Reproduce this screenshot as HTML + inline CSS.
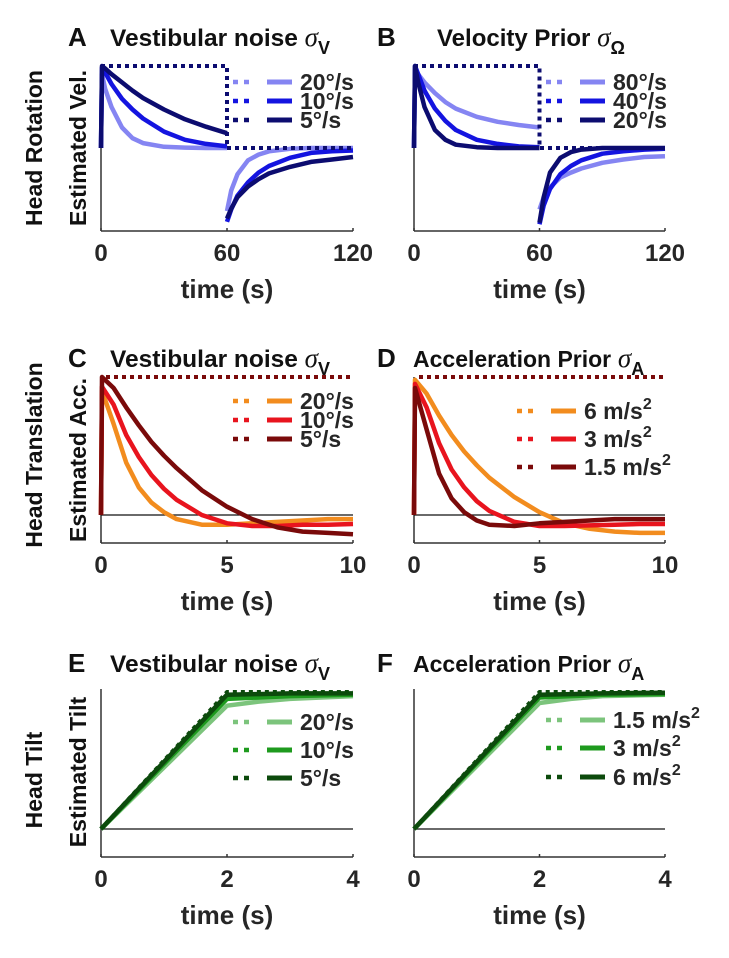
<!DOCTYPE html>
<html><head><meta charset="utf-8"><style>
body{margin:0;background:#fff;}
svg{display:block;font-family:"Liberation Sans",sans-serif;font-weight:bold;}
</style></head><body>
<svg id="fig" width="729" height="958" viewBox="0 0 729 958"></svg>
<script>
// ---- Panel A data (Head rotation, vestibular noise) ----
const aT1=[0,0.5,2,5,10,15,20,30,40,50,60];
const aT2=[60,62,65,70,75,80,90,100,110,120];
const aLight1=[0,0.9,0.72,0.5,0.25,0.12,0.06,0.015,0.005,0,0];
const aLight2=[-0.77,-0.52,-0.32,-0.15,-0.08,-0.04,-0.01,0,0,0];
const aMid1=[0,0.98,0.92,0.78,0.6,0.47,0.36,0.2,0.1,0.05,0.02];
const aMid2=[-0.9,-0.75,-0.58,-0.42,-0.3,-0.22,-0.12,-0.06,-0.04,-0.03];
const aDark1=[0,1,0.97,0.9,0.8,0.7,0.61,0.47,0.35,0.26,0.18];
const aDark2=[-0.86,-0.74,-0.6,-0.47,-0.38,-0.31,-0.23,-0.17,-0.14,-0.11];
// ---- Panel B data (velocity prior) ----
const bLight1=[0,0.95,0.9,0.8,0.67,0.56,0.48,0.38,0.32,0.28,0.25];
const bLight2=[-0.75,-0.6,-0.48,-0.36,-0.3,-0.25,-0.18,-0.14,-0.11,-0.1];
const bMid1=[0,1,0.9,0.7,0.48,0.33,0.22,0.1,0.05,0.02,0.01];
const bMid2=[-0.93,-0.7,-0.5,-0.32,-0.22,-0.15,-0.07,-0.04,-0.02,-0.01];
const bDark1=[0,1,0.8,0.5,0.22,0.1,0.04,0.01,0,0,0];
const bDark2=[-0.91,-0.6,-0.3,-0.12,-0.05,-0.02,0,0,0,0];
// ---- Panels C/D data (translation) ----
const cT=[0,0.04,0.5,1,1.5,2,2.5,3,4,5,6,7,8,9,10];
const cOrange=[0,0.9,0.66,0.38,0.2,0.09,0.02,-0.03,-0.07,-0.07,-0.06,-0.05,-0.04,-0.03,-0.03];
const cRed=[0,0.93,0.8,0.58,0.42,0.29,0.19,0.11,0,-0.06,-0.08,-0.08,-0.07,-0.07,-0.065];
const cDarkRed=[0,1,0.92,0.78,0.65,0.53,0.43,0.34,0.18,0.06,-0.03,-0.09,-0.12,-0.13,-0.14];
const dOrange=[0,0.98,0.88,0.72,0.58,0.46,0.36,0.27,0.13,0.02,-0.06,-0.1,-0.12,-0.13,-0.13];
const dRed=[0,0.95,0.78,0.52,0.33,0.2,0.1,0.03,-0.05,-0.08,-0.08,-0.075,-0.07,-0.065,-0.065];
const dDarkRed=[0,0.92,0.62,0.3,0.12,0.02,-0.04,-0.07,-0.08,-0.06,-0.05,-0.04,-0.03,-0.03,-0.03];
// ---- Panels E/F data (tilt) ----
const eT=[0,2,2.5,3,4];
const eStim=[0,1,1,1,1];
const eLight=[0,0.9,0.93,0.95,0.97];
const eMid=[0,0.95,0.96,0.97,0.98];
const eDark=[0,0.98,0.985,0.99,0.99];
const fLight=[0,0.92,0.95,0.97,0.98];
const fMid=[0,0.96,0.97,0.98,0.985];
const fDark=[0,0.98,0.985,0.99,0.995];
// tick labels
const rotTicks=[0,60,120], transTicks=[0,5,10], tiltTicks=[0,2,4];

const NS="http://www.w3.org/2000/svg";
const svg=document.getElementById('fig');
function el(tag,attrs,parent){const e=document.createElementNS(NS,tag);for(const k in attrs)e.setAttribute(k,attrs[k]);(parent||svg).appendChild(e);return e;}
const TXT="#262626";
const BLUE=["#8585f2","#1414e0","#0c0c70"], RED=["#f28c1e","#e8141e","#7a0a0a"], GRN=["#7cc47c","#1e9a1e","#0c4a0c"];

function makePanel(o){
  const g=el('g',{});
  
  
  const sx=v=>o.x0+(v-o.xmin)/(o.xmax-o.xmin)*(o.x1-o.x0);
  const sy=v=>o.y0-(v)*(o.y0-o.y1);
  o.sx=sx;o.sy=sy;o.g=g;
  const ya=el('line',{x1:o.x0,y1:o.axTop,x2:o.x0,y2:o.axBot,stroke:"#333","stroke-width":1.5},g);
  
  const xa=el('line',{x1:o.x0,y1:o.axBot,x2:o.x1,y2:o.axBot,stroke:"#333","stroke-width":1.5},g);
  
  o.ticks.forEach(t=>{
    el('line',{x1:sx(t),y1:o.axBot,x2:sx(t),y2:o.axBot-3,stroke:"#333","stroke-width":1.5},g);
    const tl=el('text',{x:sx(t),y:o.axBot+30,"text-anchor":"middle","font-size":24,fill:TXT},g);
    tl.textContent=t;
    
  });
  const xl=el('text',{x:(o.x0+o.x1)/2,y:o.axBot+67,"text-anchor":"middle","font-size":26,fill:TXT},g);
  xl.textContent="time (s)";
  
  if(o.zero){const z=el('line',{x1:o.x0,y1:sy(0),x2:o.x1,y2:sy(0),stroke:"#111","stroke-width":1.3},g);
    }
  return o;
}
function series(p,xs,ys,color,name,dotted){
  let d=xs.map((x,i)=>(i?'L':'M')+p.sx(x).toFixed(1)+' '+p.sy(ys[i]).toFixed(1)).join(' ');
  const a={d:d,fill:"none",stroke:color,"stroke-width":dotted?4:4.5,"stroke-linejoin":"round"};
  if(dotted)a["stroke-dasharray"]="4 4";
  const e=el('path',a,p.g);
  
  
}
function legend(x,ys,colors,labels,sup){
  ys.forEach((y,i)=>{
    const g=el('g',{});
    
    
    el('line',{x1:x,y1:y,x2:x+17,y2:y,stroke:colors[i],"stroke-width":4.5,"stroke-dasharray":"5 6"},g);
    el('line',{x1:x+34,y1:y,x2:x+59,y2:y,stroke:colors[i],"stroke-width":5},g);
    const t=el('text',{x:x+67,y:y+8,"font-size":23,fill:TXT},g);
    t.textContent=labels[i];
    if(sup){const s=el('tspan',{dy:-10,"font-size":16},t);s.textContent="2";}
  });
}
function title(x,tx,y,letter,txt,sub,fs){
  const L=el('text',{x:x,y:y,"font-size":26,fill:"#111"});L.textContent=letter;
  
  const t=el('text',{x:tx,y:y,"font-size":fs,fill:"#111"});t.textContent=txt;
  
  const s1=el('tspan',{"font-family":"Liberation Serif, serif","font-style":"italic","font-weight":"normal","font-size":27},t);s1.textContent=" σ";
  const s2=el('tspan',{dy:8,"font-size":18},t);s2.textContent=sub;
}
function ylab(x,y,txt,name){
  const t=el('text',{x:0,y:0,"text-anchor":"middle","font-size":23,fill:"#111",transform:`translate(${x},${y}) rotate(-90)`});
  t.textContent=txt;
}

// Row 1
const pA=makePanel({name:'panel-a',x0:101,x1:353,xmin:0,xmax:120,y0:148,y1:66,axTop:66,axBot:231,ticks:rotTicks});
const pB=makePanel({name:'panel-b',x0:414,x1:665,xmin:0,xmax:120,y0:148,y1:66,axTop:66,axBot:231,ticks:rotTicks});
[[pA,[aLight1,aMid1,aDark1],[aLight2,aMid2,aDark2]],[pB,[bLight1,bMid1,bDark1],[bLight2,bMid2,bDark2]]].forEach(([p,s1,s2])=>{
  [0,1,2].forEach(i=>{series(p,aT1,s1[i],BLUE[i],'rotation-curve-'+(i+1));series(p,aT2,s2[i],BLUE[i],'rotation-curve-'+(i+1)+'-after');});
  series(p,[0,60,60,120],[1,1,0,0],BLUE[2],'stimulus-velocity',true);
});
legend(233,[82,101,120],BLUE,["20°/s","10°/s","5°/s"]);
legend(546,[82,101,120],BLUE,["80°/s","40°/s","20°/s"]);
title(68,110,46,"A","Vestibular noise","V",24.5);
title(377,437,46,"B","Velocity Prior","Ω",24);
ylab(42,148,"Head Rotation","y-label-head-rotation");
ylab(86,148,"Estimated Vel.","y-axis-title");

// Row 2
const pC=makePanel({name:'panel-c',x0:101,x1:353,xmin:0,xmax:10,y0:515,y1:377,axTop:377,axBot:543,ticks:transTicks,zero:true});
const pD=makePanel({name:'panel-d',x0:414,x1:665,xmin:0,xmax:10,y0:515,y1:377,axTop:377,axBot:543,ticks:transTicks,zero:true});
[[pC,[cOrange,cRed,cDarkRed]],[pD,[dOrange,dRed,dDarkRed]]].forEach(([p,s])=>{
  [0,1,2].forEach(i=>series(p,cT,s[i],RED[i],'acc-curve-'+(i+1)));
  series(p,[0.2,10],[1,1],RED[2],'stimulus-acc',true);
});
legend(233,[401,420,439],RED,["20°/s","10°/s","5°/s"]);
legend(517,[411,439,467],RED,["6 m/s","3 m/s","1.5 m/s"],true);
title(68,110,367,"C","Vestibular noise","V",24.5);
title(377,413,367,"D","Acceleration Prior","A",23);
ylab(42,455,"Head Translation","y-label-head-translation");
ylab(86,460,"Estimated Acc.","y-axis-title");

// Row 3
const pE=makePanel({name:'panel-e',x0:101,x1:353,xmin:0,xmax:4,y0:829,y1:692,axTop:689,axBot:857,ticks:tiltTicks,zero:true});
const pF=makePanel({name:'panel-f',x0:414,x1:665,xmin:0,xmax:4,y0:829,y1:692,axTop:689,axBot:857,ticks:tiltTicks,zero:true});
[[pE,[eLight,eMid,eDark]],[pF,[fLight,fMid,fDark]]].forEach(([p,s])=>{
  [0,1,2].forEach(i=>series(p,eT,s[i],GRN[i],'tilt-curve-'+(i+1)));
  series(p,eT,eStim,GRN[2],'stimulus-tilt',true);
});
legend(233,[722,750,778],GRN,["20°/s","10°/s","5°/s"]);
legend(546,[720,748,777],GRN,["1.5 m/s","3 m/s","6 m/s"],true);
title(68,110,672,"E","Vestibular noise","V",24.5);
title(377,413,672,"F","Acceleration Prior","A",23);
ylab(42,780,"Head Tilt","y-label-head-tilt");
ylab(86,772,"Estimated Tilt","y-axis-title");
</script>
</body></html>
